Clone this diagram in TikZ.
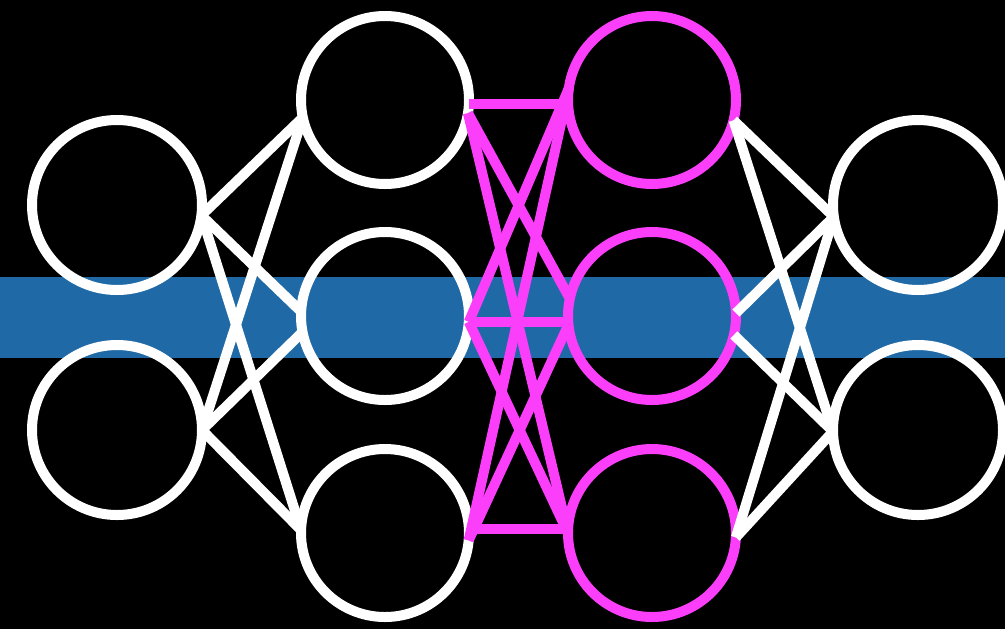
\documentclass[tikz,border=0pt]{standalone}
\definecolor{NetMagenta}{RGB}{250,62,250}
\definecolor{BandBlue}{RGB}{31,106,166}
\begin{document}
\begin{tikzpicture}[x=1cm, y=-1cm,
    neuron/.style={draw=white, circle, line width=1mm, minimum size=1.68cm, inner sep=0pt, outer sep=0pt},
    hotneuron/.style={neuron, draw=NetMagenta},
    link/.style={white, line width=1mm},
    hotlink/.style={NetMagenta, line width=1mm}]
                \fill[black] (0,0) rectangle (10.05,6.29);
                \useasboundingbox (0,0) rectangle (10.05,6.29);
                \fill[BandBlue] (0,2.77) rectangle (10.05,3.58);
                \node[neuron, minimum size=1.70cm] (in1) at (1.17,2.05) {};
                \node[neuron, minimum size=1.70cm] (in2) at (1.17,4.30) {};
                \node[neuron] (h1) at (3.85,1.00) {};
                \node[neuron] (h2) at (3.85,3.16) {};
                \node[neuron] (h3) at (3.85,5.33) {};
                \node[hotneuron] (m1) at (6.52,1.00) {};
                \node[hotneuron] (m2) at (6.52,3.16) {};
                \node[hotneuron] (m3) at (6.52,5.33) {};
                \node[neuron, minimum size=1.70cm] (out1) at (9.18,2.05) {};
                \node[neuron, minimum size=1.70cm] (out2) at (9.18,4.30) {};
                \draw[link] (in1.-7) -- (h1.192);
                \draw[link] (in1.-7) -- (h2.177);
                \draw[link] (in1.-7) -- (h3.178);
                \draw[link] (in2.0) -- (h1.192);
                \draw[link] (in2.0) -- (h2.191);
                \draw[link] (in2.0) -- (h3.178);
                \draw[hotlink] (h1.-3) -- (m1.183);
                \draw[hotlink] (h1.-9) -- (m2.168);
                \draw[hotlink] (h1.-9) -- (m3.180);
                \draw[hotlink] (h2.-4) -- (m1.172);
                \draw[hotlink] (h2.-4) -- (m2.184);
                \draw[hotlink] (h2.-4) -- (m3.180);
                \draw[hotlink] (h3.-5) -- (m1.172);
                \draw[hotlink] (h3.-5) -- (m2.186);
                \draw[hotlink] (h3.3) -- (m3.177);
                \draw[link] (m1.-14) -- (out1.188);
                \draw[link] (m1.-14) -- (out2.181);
                \draw[link] (m2.2) -- (out1.188);
                \draw[link] (m2.-13) -- (out2.181);
                \draw[link] (m3.-3) -- (out1.188);
                \draw[link] (m3.-3) -- (out2.181);
            \end{tikzpicture}
\end{document}
